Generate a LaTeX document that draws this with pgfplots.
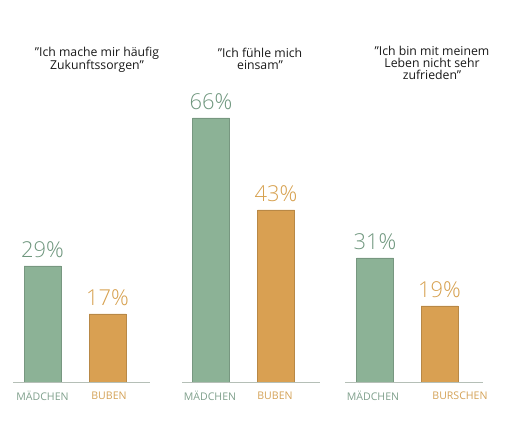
\documentclass[border=0pt]{standalone}
\usepackage{pgfplots}
\pgfplotsset{compat=1.18}
\usepackage{fontspec}
\setmainfont{Open Sans}
\newfontfamily\lightfont{Open Sans Light}
\definecolor{barG}{HTML}{8CB296}
\definecolor{barO}{HTML}{D9A052}
\definecolor{txtG}{HTML}{6E967D}
\definecolor{txtO}{HTML}{D6A04E}
\definecolor{catG}{HTML}{7FA08C}
\definecolor{catO}{HTML}{D4A257}
\definecolor{baseL}{HTML}{B5BFB7}
\begin{document}
\begin{tikzpicture}
\begin{axis}[
  scale only axis,
  width=515bp, height=429bp,
  xmin=0, xmax=515,
  ymin=-11.75, ymax=95.5,
  axis line style={draw=none},
  tick style={draw=none},
  ytick=\empty, xtick=\empty,
  /pgf/number format/assume math mode=true,
  clip=false,
  ybar, bar shift=0pt, bar width=37,
  nodes near coords={\pgfmathprintnumber{\pgfplotspointmeta}\%},
  every node near coord/.append style={font=\lightfont\fontsize{22}{24}\selectfont, inner sep=0pt, yshift=8bp},
]
\addplot[fill=barG, draw=barG!85!black, line width=0.4pt,
  every node near coord/.append style={text=txtG}]
  coordinates {(42.5,29) (211,66) (375,31)};
\addplot[fill=barO, draw=barO!85!black, line width=0.4pt,
  every node near coord/.append style={text=txtO}]
  coordinates {(107.5,17) (276,43) (439.5,19)};
\addplot[sharp plot, draw=baseL, line width=0.8pt, nodes near coords={}, forget plot] coordinates {(13,-0.2) (150,-0.2)};
\addplot[sharp plot, draw=baseL, line width=0.8pt, nodes near coords={}, forget plot] coordinates {(182,-0.2) (320,-0.2)};
\addplot[sharp plot, draw=baseL, line width=0.8pt, nodes near coords={}, forget plot] coordinates {(345,-0.2) (483,-0.2)};
\begin{scope}[font=\fontsize{10.6}{12}\selectfont]
\node[text=catG] at (axis cs:42.5,-3.5) {MÄDCHEN};
\node[text=catO] at (axis cs:109,-3.5) {BUBEN};
\node[text=catG] at (axis cs:210,-3.5) {MÄDCHEN};
\node[text=catO] at (axis cs:275,-3.5) {BUBEN};
\node[text=catG] at (axis cs:373,-3.5) {MÄDCHEN};
\node[text=catO] at (axis cs:460,-3.5) {BURSCHEN};
\end{scope}
\node[align=center, font=\fontsize{12.3}{12}\selectfont, text={black!90}] at (axis cs:97,80.6) {\symbol{34}Ich mache mir häufig\\Zukunftssorgen\symbol{34}};
\node[align=center, font=\fontsize{12.3}{12}\selectfont, text={black!90}] at (axis cs:260,80.8) {\symbol{34}Ich fühle mich\\einsam\symbol{34}};
\node[align=center, font=\fontsize{12.3}{12}\selectfont, text={black!90}] at (axis cs:432,79.8) {\symbol{34}Ich bin mit meinem\\Leben nicht sehr\\zufrieden\symbol{34}};
\end{axis}
\end{tikzpicture}
\end{document}
